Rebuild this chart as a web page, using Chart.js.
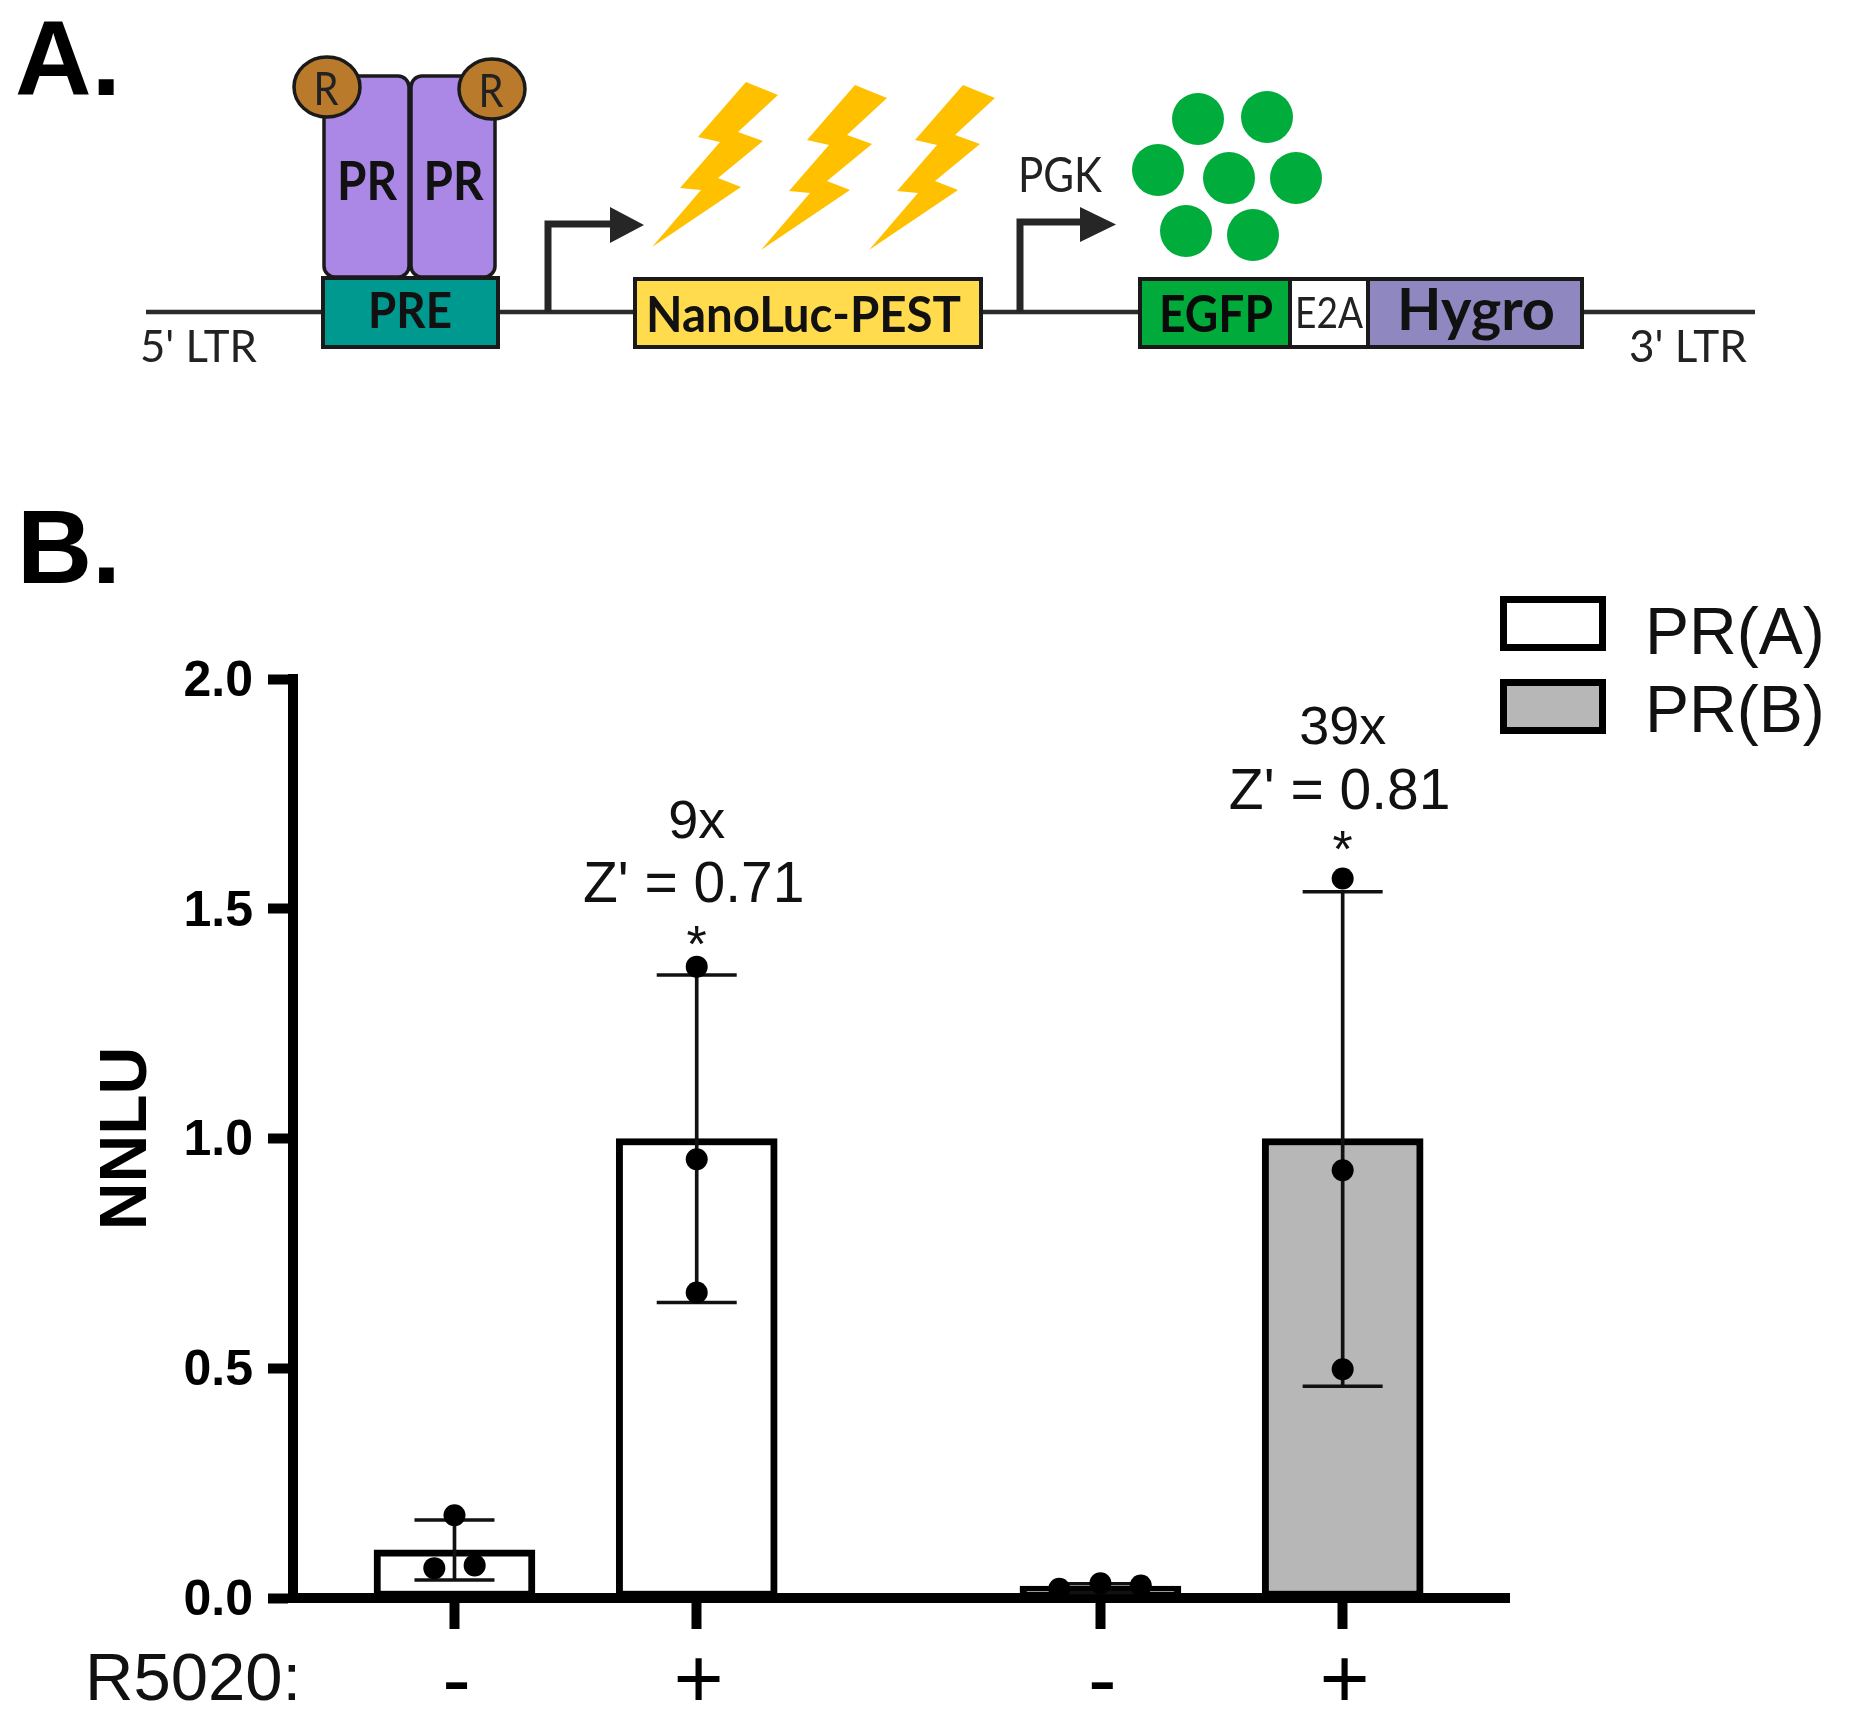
<!DOCTYPE html>
<html>
<head>
<meta charset="utf-8">
<title>PR reporter</title>
<style>html,body{margin:0;padding:0;background:#fff}canvas{display:block}</style>
<script src="https://cdn.jsdelivr.net/npm/chart.js@4"></script>
</head>
<body>
<canvas id="c" width="1853" height="1731"></canvas>
<script>
// ---- data ----
const groupX = [0, 3, 8, 11];
const treatmentLabels = ['-', '+', '-', '+'];
const yTickValues = [0, 0.5, 1.0, 1.5, 2.0];
const seriesNames = ['PR(A)', 'PR(B)'];
const prAMeans = [0.105, 1.0];
const prBMeans = [0.026, 1.0];
const errLow = [0.039, 0.643, 0.012, 0.461];
const errHigh = [0.170, 1.356, 0.031, 1.537];
const dotOffsets = [[0, -0.25, 0.25], [0, 0, 0], [-0.51, 0, 0.5], [0, 0, 0]];
const dotValues = [[0.180, 0.065, 0.071], [1.374, 0.955, 0.665], [0.020, 0.032, 0.027], [1.566, 0.931, 0.498]];
const foldLabels = ['9x', '39x'];
const zLabels = ["Z' = 0.71", "Z' = 0.81"];
const annotatedGroups = [1, 3];
const foldY = [1.655, 1.858];
const zY = [1.515, 1.717];
const starY = [1.385, 1.591];

const AR = '"Liberation Sans", Arial, sans-serif';
const LA = 'Lato, sans-serif';

function text(ctx, s, x, y, font, color, align, maxW) {
  ctx.font = font; ctx.fillStyle = color || '#000';
  ctx.textAlign = align || 'left'; ctx.textBaseline = 'alphabetic';
  if (maxW) ctx.fillText(s, x, y, maxW); else ctx.fillText(s, x, y);
}
function box(ctx, x, y, w, h, fill, lw) {
  ctx.fillStyle = fill; ctx.fillRect(x, y, w, h);
  ctx.strokeStyle = '#1a1a1a'; ctx.lineWidth = lw || 4; ctx.strokeRect(x, y, w, h);
}
function rbox(ctx, x, y, w, h, r, fill) {
  ctx.beginPath(); ctx.roundRect(x, y, w, h, r);
  ctx.fillStyle = fill; ctx.fill();
  ctx.strokeStyle = '#1a1a1a'; ctx.lineWidth = 3.5; ctx.stroke();
}
function ell(ctx, x, y, rx, ry, fill, stroke) {
  ctx.beginPath(); ctx.ellipse(x, y, rx, ry, 0, 0, Math.PI * 2);
  ctx.fillStyle = fill; ctx.fill();
  if (stroke) { ctx.strokeStyle = '#1a1a1a'; ctx.lineWidth = 3.5; ctx.stroke(); }
}
function promoter(ctx, x, top, xEnd, hx0, hx1, hy0, hy1) {
  ctx.strokeStyle = '#262626'; ctx.lineWidth = 7; ctx.lineJoin = 'miter';
  ctx.beginPath(); ctx.moveTo(x, 312); ctx.lineTo(x, top); ctx.lineTo(xEnd, top); ctx.stroke();
  ctx.fillStyle = '#262626';
  ctx.beginPath(); ctx.moveTo(hx0, hy0); ctx.lineTo(hx1, (hy0 + hy1) / 2); ctx.lineTo(hx0, hy1); ctx.closePath(); ctx.fill();
}
function bolt(ctx, dx, dy) {
  const pts = [[746,82],[778,95],[738,132],[763,141],[718,178],[741,187],[652,247],[701,190],[680,188],[720,142],[698,137]];
  ctx.fillStyle = '#ffc000'; ctx.beginPath();
  pts.forEach((p, i) => i ? ctx.lineTo(p[0] + dx, p[1] + dy) : ctx.moveTo(p[0] + dx, p[1] + dy));
  ctx.closePath(); ctx.fill();
}

const schematic = {
  id: 'schematic',
  beforeDraw(chart) {
    const ctx = chart.ctx; ctx.save();
    ctx.fillStyle = '#fff'; ctx.fillRect(0, 0, 1853, 1731);
    text(ctx, 'A.', 15, 95, 'bold 106px ' + AR);
    text(ctx, 'B.', 17, 583, 'bold 104px ' + AR);
    // DNA line
    ctx.strokeStyle = '#2b2b2b'; ctx.lineWidth = 4.5;
    ctx.beginPath(); ctx.moveTo(146, 312); ctx.lineTo(1755, 312); ctx.stroke();
    // PR dimer
    rbox(ctx, 324, 76, 85, 201, 11, '#ab87e6');
    rbox(ctx, 411, 76, 84, 201, 11, '#ab87e6');
    text(ctx, 'PR', 367, 200, 'bold 53px ' + LA, '#111', 'center', 60);
    text(ctx, 'PR', 453.5, 200, 'bold 53px ' + LA, '#111', 'center', 60);
    ell(ctx, 327, 87, 33, 30, '#b97a2c', true);
    ell(ctx, 492, 89, 33, 30, '#b97a2c', true);
    text(ctx, 'R', 326, 105, '46px ' + LA, '#222', 'center', 25);
    text(ctx, 'R', 491, 107, '46px ' + LA, '#222', 'center', 25);
    box(ctx, 323, 278, 175, 69, '#00998f');
    text(ctx, 'PRE', 410, 328, 'bold 49px ' + LA, '#111', 'center', 84);
    // promoters
    promoter(ctx, 548, 224, 612, 610, 644, 207, 243);
    promoter(ctx, 1020, 222, 1082, 1080, 1116, 207, 242);
    // luciferase
    bolt(ctx, 0, 0); bolt(ctx, 109, 3); bolt(ctx, 217, 3);
    box(ctx, 635, 279, 346, 68, '#ffdb4d');
    text(ctx, 'NanoLuc-PEST', 646, 332, 'bold 50px ' + LA, '#111', 'left', 315);
    text(ctx, 'PGK', 1018, 192, '48px ' + LA, '#222', 'left', 84);
    // EGFP
    [[1198,119],[1267,117],[1158,170],[1229,178],[1296,178],[1186,231],[1253,235]]
      .forEach(p => ell(ctx, p[0], p[1], 26, 26, '#00ac3c'));
    box(ctx, 1140, 279, 150, 68, '#00ab3c');
    box(ctx, 1290, 279, 78, 68, '#fff');
    box(ctx, 1368, 279, 214, 68, '#8f87bf');
    text(ctx, 'EGFP', 1159, 332, 'bold 52px ' + LA, '#0a0a0a', 'left', 114);
    text(ctx, 'E2A', 1295, 328, '42px ' + LA, '#222', 'left', 68);
    text(ctx, 'Hygro', 1397, 330, 'bold 58px ' + LA, '#111', 'left', 158);
    text(ctx, "5' LTR", 140, 362, '44px ' + LA, '#222', 'left', 117);
    text(ctx, "3' LTR", 1629, 362, '44px ' + LA, '#222', 'left', 118);
    // legend of panel B
    ctx.lineWidth = 7; ctx.strokeStyle = '#000';
    ctx.fillStyle = '#fff'; ctx.fillRect(1503.5, 599.5, 99, 48); ctx.strokeRect(1503.5, 599.5, 99, 48);
    ctx.fillStyle = '#b7b7b7'; ctx.fillRect(1503.5, 682.5, 99, 48); ctx.strokeRect(1503.5, 682.5, 99, 48);
    text(ctx, seriesNames[0], 1645, 654, '66px ' + AR, '#111');
    text(ctx, seriesNames[1], 1645, 732, '66px ' + AR, '#111');
    text(ctx, 'R5020:', 85, 1700, '67px ' + AR, '#111');
    ctx.restore();
  },
  afterDatasetsDraw(chart) {
    const ctx = chart.ctx, xs = chart.scales.x, ys = chart.scales.y;
    ctx.save();
    // square the top corner of the y axis
    ctx.fillStyle = '#000';
    ctx.fillRect(xs.left - 5, ys.getPixelForValue(2) - 5, 10, 6);
    annotatedGroups.forEach((g, i) => {
      const x = xs.getPixelForValue(groupX[g]);
      text(ctx, foldLabels[i], x, ys.getPixelForValue(foldY[i]), '54px ' + AR, '#111', 'center');
      text(ctx, zLabels[i], x - 3, ys.getPixelForValue(zY[i]), '57px ' + AR, '#111', 'center');
      text(ctx, '*', x, ys.getPixelForValue(starY[i]), '52px ' + AR, '#111', 'center');
    });
    ctx.restore();
  }
};

const means = [prAMeans[0], prAMeans[1], prBMeans[0], prBMeans[1]];
const bar = (label, idx, fill) => ({
  type: 'bar', label, order: 4, grouped: false,
  data: idx.map(i => ({ x: groupX[i], y: means[i] })),
  backgroundColor: fill, borderColor: '#000', borderWidth: 7,
  borderSkipped: false, barThickness: 161
});
const stems = {
  type: 'bar', label: 'SD', order: 3, grouped: false,
  data: groupX.map((x, i) => ({ x, y: [errLow[i], errHigh[i]] })),
  backgroundColor: '#111', borderWidth: 0, barThickness: 3
};
const caps = {
  type: 'scatter', label: 'SD caps', order: 2,
  data: groupX.flatMap((x, i) => [{ x, y: errLow[i] }, { x, y: errHigh[i] }]),
  pointStyle: 'line', pointRadius: 40, pointBorderColor: '#111', pointBorderWidth: 3.5,
  borderColor: '#111', showLine: false
};
const dots = {
  type: 'scatter', label: 'Replicates', order: 1,
  data: groupX.flatMap((x, i) => dotValues[i].map((y, j) => ({ x: x + dotOffsets[i][j], y }))),
  pointStyle: 'circle', pointRadius: 11, pointBackgroundColor: '#000', pointBorderWidth: 0, showLine: false
};

new Chart(document.getElementById('c'), {
  data: { datasets: [bar(seriesNames[0], [0, 1], '#ffffff'), bar(seriesNames[1], [2, 3], '#b7b7b7'), stems, caps, dots] },
  plugins: [schematic],
  options: {
    responsive: false, animation: false, devicePixelRatio: 1,
    layout: { padding: { left: 0, top: 679, right: 344, bottom: 0 } },
    plugins: { legend: { display: false }, tooltip: { enabled: false } },
    scales: {
      x: {
        type: 'linear', min: -2, max: 13.06, offset: false,
        afterFit: s => { s.height = 133; },
        afterBuildTicks: s => { s.ticks = groupX.map(value => ({ value })); },
        border: { color: '#000', width: 10 },
        grid: { offset: false, drawOnChartArea: false, color: '#000', tickColor: '#000', tickWidth: 10, tickLength: 31 },
        ticks: {
          autoSkip: false, maxRotation: 0, color: '#000', padding: 4, labelOffset: 2,
          font: { family: AR, size: 86 },
          callback: v => treatmentLabels[groupX.indexOf(v)]
        }
      },
      y: {
        type: 'linear', min: 0, max: 2,
        afterFit: s => { s.width = 293; },
        afterBuildTicks: s => { s.ticks = yTickValues.map(value => ({ value })); },
        border: { color: '#000', width: 10 },
        grid: { drawOnChartArea: false, color: '#000', tickColor: '#000', tickWidth: 10, tickLength: 25 },
        ticks: {
          color: '#000', padding: 15, labelOffset: 3,
          font: { family: AR, size: 50, weight: 'bold' },
          callback: v => v.toFixed(1)
        },
        title: {
          display: true, text: 'NNLU', color: '#000',
          font: { family: AR, size: 66, weight: 'bold' },
          padding: { top: 88, bottom: 0 }
        }
      }
    }
  }
});
</script>
</body>
</html>
